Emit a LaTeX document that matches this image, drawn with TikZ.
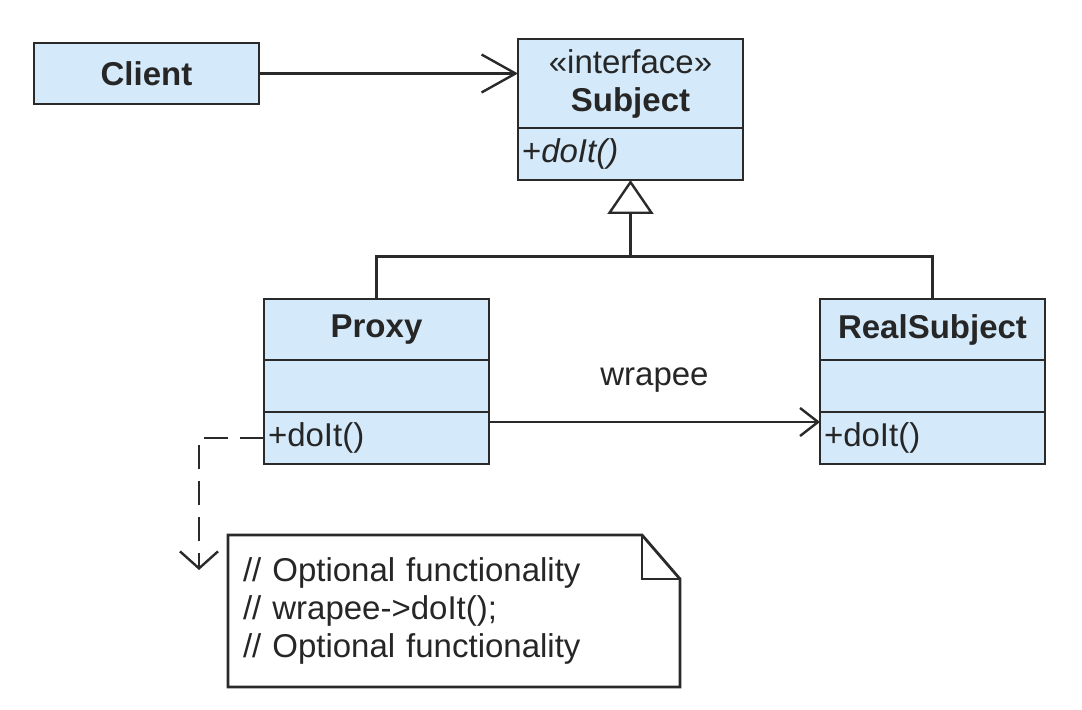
\documentclass[tikz,border=0pt]{standalone}
\usepackage{fontspec}
\setmainfont{Liberation Sans}
\usepackage{xcolor}
\usepackage{tikz}
\usetikzlibrary{arrows.meta, positioning}
\definecolor{umlfill}{HTML}{D4EAFA}
\definecolor{umlline}{HTML}{2A2A2A}
\definecolor{umltext}{HTML}{262626}
\newcommand{\umlfont}{\fontsize{16.5}{19}\selectfont}

\begin{document}
\begin{tikzpicture}[
  x=0.5pt, y=-0.5pt,
  classhead/.style={rectangle, draw=umlline, fill=umlfill, line width=1.4pt, outer sep=0pt, minimum width=112.5pt, minimum height=30.5pt, align=center, text=umltext, font=\umlfont\bfseries},
  classpart/.style={rectangle, draw=umlline, fill=umlfill, line width=1.4pt, outer sep=0pt, minimum height=26pt, text width=108.5pt, inner xsep=2pt, align=left, text=umltext, font=\umlfont},
  notebox/.style={rectangle, outer sep=0pt, minimum width=226pt, minimum height=76pt, text width=211pt, inner xsep=7.5pt, align=left, text=umltext, font=\umlfont},
  line/.style={draw=umlline, line width=1.2pt},
  assoc/.style={line, -{Straight Barb[length=17pt, width=19pt]}},
  gen/.style={line, -{Triangle[open, length=17pt, width=23pt]}},
  dep/.style={line, dash pattern=on 12pt off 6pt, -{Straight Barb[length=8.5pt, width=19pt]}}
]
  \useasboundingbox (0,0) rectangle (1082,710);

  % classes
  \node[classhead, anchor=north west] (client) at (34,43) {Client};

  \node[classhead, anchor=north west, minimum height=44.5pt] (subjecthead) at (518,39) {\mdseries\guillemotleft interface\guillemotright\\Subject};
  \node[classpart, below=0pt of subjecthead] (subjectops) {+\textit{doIt()}};

  \node[classhead, anchor=north west] (proxyhead) at (264,299) {Proxy};
  \node[classpart, below=0pt of proxyhead] (proxyattr) {};
  \node[classpart, below=0pt of proxyattr] (proxyops) {+doIt()};

  \node[classhead, anchor=north west] (realhead) at (820,299) {RealSubject};
  \node[classpart, below=0pt of realhead] (realattr) {};
  \node[classpart, below=0pt of realattr] (realops) {+doIt()};

  % note
  \node[notebox, anchor=north west] (note) at (228,535) {// Optional functionality\\// wrapee->doIt();\\// Optional functionality};
  \draw[line, line width=1.4pt] (note.north west) -- ([xshift=-19pt]note.north east) -- ([yshift=-22pt]note.north east) -- (note.south east) -- (note.south west) -- cycle;
  \draw[line, line width=1.4pt] ([xshift=-19pt]note.north east) |- ([yshift=-22pt]note.north east);

  % connectors
  \draw[assoc] (client.east) -- (client.east -| subjecthead.west);

  \coordinate (genjoin) at ([yshift=-38.5pt]subjectops.south);
  \draw[gen] (genjoin) -- (subjectops.south);
  \draw[line, line width=1.5pt] (proxyhead.north) |- (genjoin) -| (realhead.north);

  \draw[assoc, -{Straight Barb[length=9pt, width=14pt]}] ([yshift=8pt]proxyops.east) -- node[midway, yshift=21pt, text=umltext, font=\umlfont] (wrapee) {wrapee} ([yshift=8pt]realops.west);

  \coordinate (notetip) at ([xshift=-14.5pt, yshift=-17.5pt]note.north west);
  \draw[dep] (proxyops.west) -| (notetip);
\end{tikzpicture}
\end{document}
